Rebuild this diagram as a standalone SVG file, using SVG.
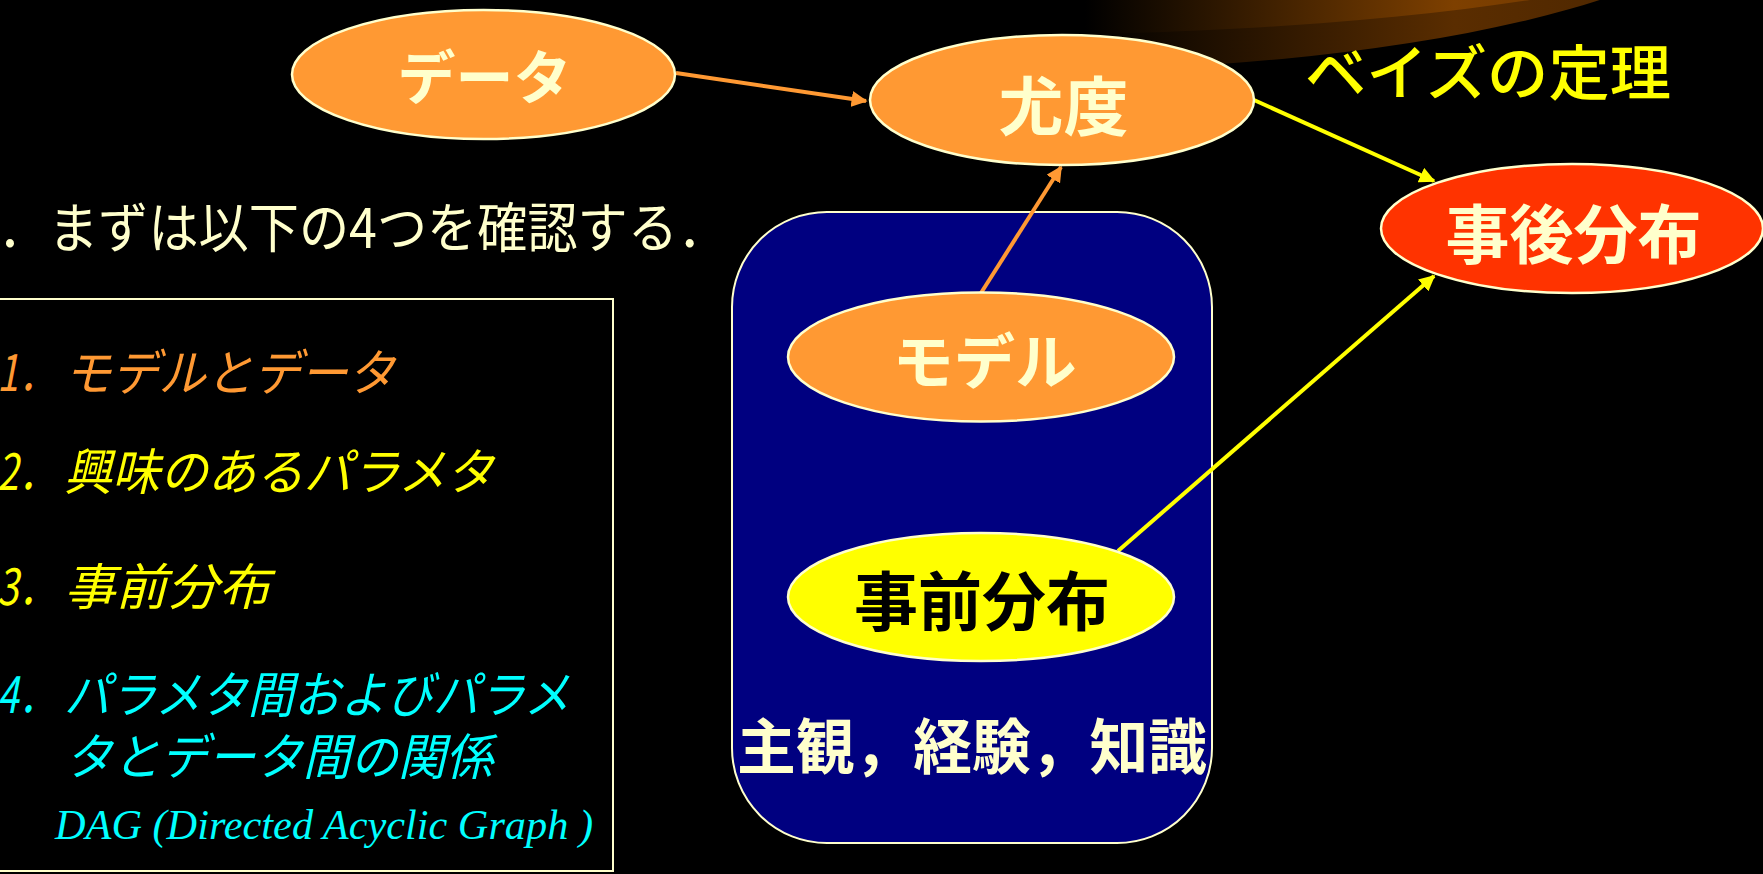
<svg xmlns="http://www.w3.org/2000/svg" width="1763" height="874" viewBox="0 0 1763 874">
<defs>
<linearGradient id="gTop" gradientUnits="userSpaceOnUse" x1="1085" y1="0" x2="1700" y2="0">
<stop offset="0" stop-color="#000000"/>
<stop offset="0.6" stop-color="#7E4000"/>
<stop offset="1" stop-color="#6A3400"/>
</linearGradient>
<linearGradient id="gRim" gradientUnits="userSpaceOnUse" x1="1085" y1="0" x2="1700" y2="0">
<stop offset="0" stop-color="#000000"/>
<stop offset="0.6" stop-color="#5A2D00"/>
<stop offset="1" stop-color="#4A2500"/>
</linearGradient>
<marker id="arO" viewBox="0 0 10 10" refX="9" refY="5" markerWidth="4" markerHeight="4" orient="auto" markerUnits="strokeWidth">
<path d="M0,0 L10,5 L0,10 z" fill="#FF9933"/>
</marker>
<marker id="arY" viewBox="0 0 10 10" refX="9" refY="5" markerWidth="4" markerHeight="4" orient="auto" markerUnits="strokeWidth">
<path d="M0,0 L10,5 L0,10 z" fill="#FFFF00"/>
</marker>
</defs>
<style>
.node{stroke:#FFFFCC;stroke-width:2.5}
.jp{font-family:"Noto Sans CJK JP","Noto Sans",sans-serif}
.lbl{fill:#FFFFCC;font-weight:700;text-anchor:middle}
.item{font-style:italic;font-size:50px}
.lnO{stroke:#FF9933;stroke-width:4;fill:none;marker-end:url(#arO)}
.lnY{stroke:#FFFF00;stroke-width:4;fill:none;marker-end:url(#arY)}
</style>
<rect x="0" y="0" width="1763" height="874" fill="#000000"/>

<g id="decoration">
<ellipse cx="1000" cy="-100" rx="737" ry="172" fill="url(#gRim)"/>
<ellipse cx="1000" cy="-120" rx="837" ry="155" fill="url(#gTop)"/>
</g>

<g id="title" class="jp">
<text x="1488" y="95" font-size="60" font-weight="500" fill="#FFFF00" text-anchor="middle" textLength="366" lengthAdjust="spacingAndGlyphs">ベイズの定理</text>
</g>

<g id="intro" class="jp">
<text x="-2" y="248" font-size="54" fill="#FFFFCC" textLength="730" lengthAdjust="spacingAndGlyphs">．まずは以下の4つを確認する．</text>
</g>

<g id="checklist" class="jp">
<rect x="-5" y="299" width="618" height="572" fill="#000000" stroke="#FFFFCC" stroke-width="2"/>
<text y="391" class="item" fill="#FF9933"><tspan x="-3" textLength="60" lengthAdjust="spacingAndGlyphs">1．</tspan><tspan x="64" textLength="331" lengthAdjust="spacingAndGlyphs">モデルとデータ</tspan></text>
<text y="490" class="item" fill="#FFFF00"><tspan x="-3" textLength="60" lengthAdjust="spacingAndGlyphs">2．</tspan><tspan x="64" textLength="430" lengthAdjust="spacingAndGlyphs">興味のあるパラメタ</tspan></text>
<text y="605" class="item" fill="#FFFF00"><tspan x="-3" textLength="60" lengthAdjust="spacingAndGlyphs">3．</tspan><tspan x="64" textLength="206" lengthAdjust="spacingAndGlyphs">事前分布</tspan></text>
<text y="713" class="item" fill="#00FFFF"><tspan x="-3" textLength="60" lengthAdjust="spacingAndGlyphs">4．</tspan><tspan x="64" textLength="506" lengthAdjust="spacingAndGlyphs">パラメタ間およびパラメ</tspan></text>
<text x="65" y="775" class="item" fill="#00FFFF" textLength="428" lengthAdjust="spacingAndGlyphs">タとデータ間の関係</text>
<text x="55" y="839" font-family="'Liberation Serif',serif" font-style="italic" font-size="43" fill="#00FFFF" textLength="538" lengthAdjust="spacingAndGlyphs">DAG (Directed Acyclic Graph )</text>
</g>

<g id="knowledge" class="jp">
<rect x="732" y="212" width="480" height="631" rx="95" ry="95" fill="#000080" stroke="#FFFFCC" stroke-width="2"/>
<text x="972" y="769" font-size="60" class="lbl" textLength="470" lengthAdjust="spacingAndGlyphs">主観，経験，知識</text>
</g>

<g id="connectors">
<line class="lnO" x1="676" y1="73" x2="866" y2="101"/>
<line class="lnO" x1="981" y1="293" x2="1061" y2="167"/>
<line class="lnY" x1="1254" y1="100" x2="1434" y2="181"/>
<line class="lnY" x1="1118" y1="551" x2="1434" y2="276"/>
</g>

<g id="node-data" class="jp">
<ellipse class="node" cx="483.5" cy="74.5" rx="191.5" ry="64.5" fill="#FF9933"/>
<text x="484.5" y="99" font-size="58" class="lbl" textLength="174" lengthAdjust="spacingAndGlyphs">データ</text>
</g>

<g id="node-likelihood" class="jp">
<ellipse class="node" cx="1062" cy="100" rx="192" ry="65" fill="#FF9933"/>
<text x="1063.5" y="130" font-size="64" class="lbl" textLength="130" lengthAdjust="spacingAndGlyphs">尤度</text>
</g>

<g id="node-posterior" class="jp">
<ellipse class="node" cx="1572" cy="228.5" rx="191" ry="64.5" fill="#FF3300"/>
<text x="1573.5" y="258" font-size="64" class="lbl" textLength="256" lengthAdjust="spacingAndGlyphs">事後分布</text>
</g>

<g id="node-model" class="jp">
<ellipse class="node" cx="981" cy="357" rx="193" ry="64.5" fill="#FF9933"/>
<text x="984.5" y="384" font-size="60" class="lbl" textLength="184" lengthAdjust="spacingAndGlyphs">モデル</text>
</g>

<g id="node-prior" class="jp">
<ellipse class="node" cx="981" cy="597" rx="193" ry="64" fill="#FFFF00"/>
<text x="982" y="625" font-size="64" font-weight="700" fill="#000000" text-anchor="middle" textLength="256" lengthAdjust="spacingAndGlyphs">事前分布</text>
</g>
</svg>
